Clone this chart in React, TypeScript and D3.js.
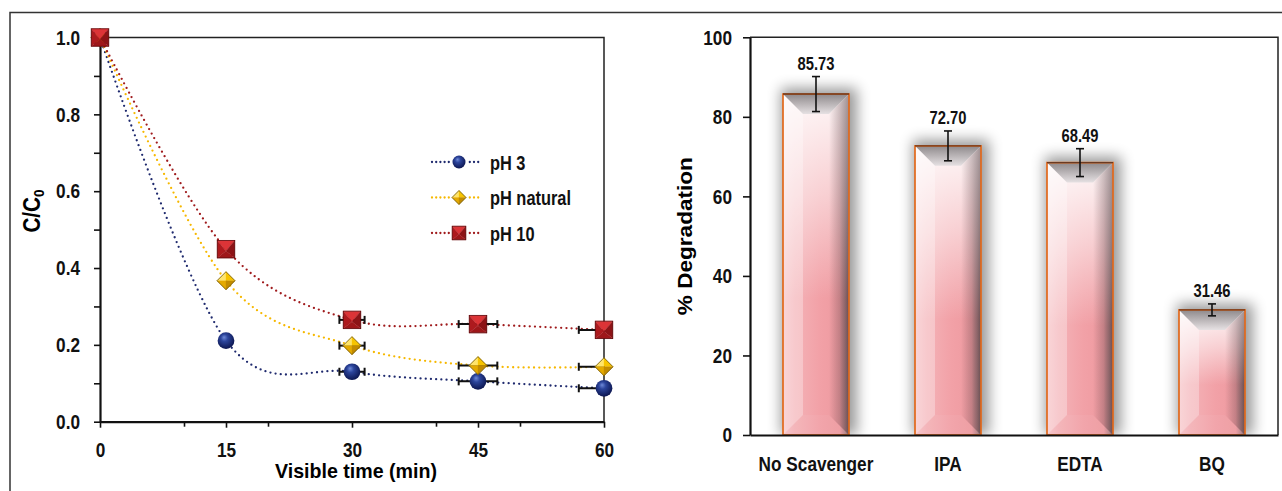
import React, { useEffect, useRef } from 'react';
import * as d3 from 'd3';

// left panel: C/C0 vs visible time
const times = [0, 15, 30, 45, 60];
const ph3 = [1.0, 0.211, 0.13, 0.105, 0.087];
const phNatural = [1.0, 0.367, 0.198, 0.146, 0.143];
const ph10 = [1.0, 0.449, 0.265, 0.254, 0.239];
const timeErr = [0, 0, 1.5, 2.3, 3.0];
const timeTicks = [0, 15, 30, 45, 60];
const timeMinorTicks = [10, 20, 40, 50];
const ratioTicks = [0, 0.2, 0.4, 0.6, 0.8, 1.0];
const ratioMinorTicks = [0.1, 0.3, 0.5, 0.7, 0.9];
const seriesNames = ['pH 3', 'pH natural', 'pH 10'];

// right panel: scavenger test
const scavengers = ['No Scavenger', 'IPA', 'EDTA', 'BQ'];
const degradation = [85.73, 72.7, 68.49, 31.46];
const degradationErr = [4.4, 3.75, 3.5, 1.5];
const degradationTicks = [0, 20, 40, 60, 80, 100];

const FONT = "'Liberation Sans', Arial, sans-serif";
const NARROW = 0.82;

// squeeze text horizontally around its own x (no narrow face installed)
const narrow = sel => sel.each(function () {
  const x = +this.getAttribute('x') || 0;
  d3.select(this).attr('transform', `translate(${x},0) scale(${NARROW},1) translate(${-x},0)`);
});

const App = () => {
  const ref = useRef(null);

  useEffect(() => {
    document.body.style.margin = '0';
    d3.select(ref.current).selectAll('*').remove();

    const width = 1282;
    const height = 491;

    const svg = d3.select(ref.current)
      .append('svg')
      .attr('width', width)
      .attr('height', height)
      .style('display', 'block')
      .style('background', '#fff');

    const defs = svg.append('defs');

    // sphere for pH 3
    const sphere = defs.append('radialGradient').attr('id', 'sphere')
      .attr('cx', '45%').attr('cy', '40%').attr('r', '60%').attr('fx', '38%').attr('fy', '30%');
    sphere.append('stop').attr('offset', '0%').attr('stop-color', '#6f8ad8');
    sphere.append('stop').attr('offset', '35%').attr('stop-color', '#2c459c');
    sphere.append('stop').attr('offset', '100%').attr('stop-color', '#0c1650');

    // bar gradients
    const bodyH = defs.append('linearGradient').attr('id', 'barBody')
      .attr('x1', 0).attr('y1', 0).attr('x2', 1).attr('y2', 0);
    [['0%', '#f6c3c7'], ['18%', '#f4b2b7'], ['55%', '#f2a1a7'], ['86%', '#ee9aa0'], ['94%', '#b98589'], ['100%', '#7e6467']]
      .forEach(([o, c]) => bodyH.append('stop').attr('offset', o).attr('stop-color', c));

    const shine = defs.append('linearGradient').attr('id', 'barShine')
      .attr('x1', 0).attr('y1', 0).attr('x2', 0).attr('y2', 1);
    shine.append('stop').attr('offset', '0%').attr('stop-color', '#fff').attr('stop-opacity', 0.92);
    shine.append('stop').attr('offset', '30%').attr('stop-color', '#fff').attr('stop-opacity', 0.5);
    shine.append('stop').attr('offset', '60%').attr('stop-color', '#fff').attr('stop-opacity', 0);

    const topFace = defs.append('linearGradient').attr('id', 'barTop')
      .attr('x1', 0).attr('y1', 0).attr('x2', 0).attr('y2', 1);
    topFace.append('stop').attr('offset', '0%').attr('stop-color', '#8e898b');
    topFace.append('stop').attr('offset', '100%').attr('stop-color', '#e6e1e3');

    const rightFace = defs.append('linearGradient').attr('id', 'barRight')
      .attr('x1', 0).attr('y1', 0).attr('x2', 1).attr('y2', 0);
    rightFace.append('stop').attr('offset', '0%').attr('stop-color', '#5a4044').attr('stop-opacity', 0);
    rightFace.append('stop').attr('offset', '100%').attr('stop-color', '#5a4044').attr('stop-opacity', 0.55);

    const blur = defs.append('filter').attr('id', 'barShadow')
      .attr('x', '-60%').attr('y', '-30%').attr('width', '220%').attr('height', '160%');
    blur.append('feGaussianBlur').attr('stdDeviation', 7);

    defs.append('clipPath').attr('id', 'plotClip')
      .append('rect').attr('x', 90).attr('y', 20).attr('width', 515).attr('height', 420);

    // outer frame
    svg.append('path')
      .attr('d', `M10,${height} L10,12.5 L${width},12.5`)
      .attr('fill', 'none').attr('stroke', '#333').attr('stroke-width', 1.5);

    const styleText = (sel, size) => sel.selectAll('text')
      .attr('font-family', FONT).attr('font-weight', 700)
      .attr('font-size', size).attr('fill', '#111')
      .call(narrow);

    // ================= LEFT PANEL =================
    const xL = d3.scaleLinear().domain([0, 60]).range([100, 604]);
    const yL = d3.scaleLinear().domain([0, 1]).range([421.7, 37.5]);

    const left = svg.append('g');

    // box top/right
    left.append('path')
      .attr('d', `M${xL(0)},${yL(1)} L${xL(60)},${yL(1)} L${xL(60)},${yL(0)}`)
      .attr('fill', 'none').attr('stroke', '#222').attr('stroke-width', 1.5);

    left.append('g')
      .attr('transform', `translate(${xL(0)},0)`)
      .call(d3.axisLeft(yL).tickValues(ratioMinorTicks).tickSize(6).tickFormat(() => '').tickSizeOuter(0))
      .call(g => g.select('.domain').remove())
      .call(g => g.selectAll('line').attr('stroke', '#111').attr('stroke-width', 1.6));

    left.append('g')
      .attr('transform', `translate(${xL(0)},0)`)
      .call(d3.axisLeft(yL).tickValues(ratioTicks).tickSize(6).tickPadding(14).tickFormat(d3.format('.1f')).tickSizeOuter(0))
      .call(g => g.select('.domain').attr('stroke', '#111').attr('stroke-width', 2.2))
      .call(g => g.selectAll('line').attr('stroke', '#111').attr('stroke-width', 1.6))
      .call(g => styleText(g, 21));

    left.append('g')
      .attr('transform', `translate(0,${yL(0)})`)
      .call(d3.axisBottom(xL).tickValues(timeMinorTicks).tickSize(5).tickFormat(() => '').tickSizeOuter(0))
      .call(g => g.select('.domain').remove())
      .call(g => g.selectAll('line').attr('stroke', '#111').attr('stroke-width', 1.6));

    left.append('g')
      .attr('transform', `translate(0,${yL(0)})`)
      .call(d3.axisBottom(xL).tickValues(timeTicks).tickSize(6).tickPadding(14).tickSizeOuter(0))
      .call(g => g.select('.domain').attr('stroke', '#111').attr('stroke-width', 2.2))
      .call(g => g.selectAll('line').attr('stroke', '#111').attr('stroke-width', 1.6))
      .call(g => styleText(g, 21));

    left.append('text')
      .attr('x', 356).attr('y', 478)
      .attr('text-anchor', 'middle')
      .attr('font-family', FONT).attr('font-weight', 700).attr('font-size', 21)
      .attr('textLength', 162).attr('lengthAdjust', 'spacingAndGlyphs')
      .text('Visible time (min)');

    const yTitle = left.append('text')
      .attr('transform', `translate(40,211) rotate(-90) scale(${NARROW + 0.08},1)`)
      .attr('text-anchor', 'middle')
      .attr('font-family', FONT).attr('font-weight', 700).attr('font-size', 23);
    yTitle.append('tspan').text('C/C');
    yTitle.append('tspan').attr('font-size', 15).attr('dy', 4).text('0');

    const series = [
      { name: seriesNames[0], values: ph3, color: '#1f2a6e', marker: 'circle' },
      { name: seriesNames[1], values: phNatural, color: '#f6b800', marker: 'diamond' },
      { name: seriesNames[2], values: ph10, color: '#a01b1d', marker: 'square' }
    ];

    const drawMarker = (g, type, s) => {
      if (type === 'circle') {
        g.append('circle').attr('r', s * 0.93).attr('fill', 'url(#sphere)');
      } else if (type === 'diamond') {
        const faces = [
          [[0, -s], [-s, 0], [0, 0], '#ffe46a'],
          [[0, -s], [s, 0], [0, 0], '#f7c400'],
          [[-s, 0], [0, s], [0, 0], '#e5aa00'],
          [[s, 0], [0, s], [0, 0], '#c38c00']
        ];
        faces.forEach(([a, b, c, col]) => g.append('path')
          .attr('d', `M${a}L${b}L${c}Z`).attr('fill', col).attr('stroke', col).attr('stroke-width', 0.3));
        g.append('path').attr('d', `M0,${-s}L${s},0L0,${s}L${-s},0Z`)
          .attr('fill', 'none').attr('stroke', '#6b5000').attr('stroke-width', 0.8);
      } else {
        const h = s * 0.97;
        const apex = [0, h * 0.2];
        const faces = [
          [[-h, -h], [h, -h], apex, '#dc3437'],
          [[-h, -h], apex, [-h, h], '#ad1a1e'],
          [[h, -h], [h, h], apex, '#8c1316'],
          [[-h, h], [h, h], apex, '#9e171a']
        ];
        faces.forEach(([a, b, c, col]) => g.append('path')
          .attr('d', `M${a}L${b}L${c}Z`).attr('fill', col).attr('stroke', col).attr('stroke-width', 0.3));
        g.append('rect').attr('x', -h).attr('y', -h).attr('width', 2 * h).attr('height', 2 * h)
          .attr('fill', 'none').attr('stroke', '#5e0b0d').attr('stroke-width', 0.8);
      }
    };

    // Excel-style smoothing
    const line = d3.line()
      .x((d, i) => xL(times[i]))
      .y(d => yL(d))
      .curve(d3.curveCardinal.tension(0));

    const plot = left.append('g').attr('clip-path', 'url(#plotClip)');

    series.forEach(s => {
      plot.append('path')
        .attr('d', line(s.values))
        .attr('fill', 'none')
        .attr('stroke', s.color)
        .attr('stroke-width', 2.3)
        .attr('stroke-linecap', 'round')
        .attr('stroke-dasharray', '0 5.2');
    });

    series.forEach(s => {
      // horizontal error bars
      s.values.forEach((v, i) => {
        const e = timeErr[i];
        if (!e) return;
        const y = yL(v);
        const x0 = xL(times[i] - e);
        const x1 = xL(times[i] + e);
        const eb = plot.append('g').attr('stroke', '#111').attr('stroke-width', 2);
        eb.append('line').attr('x1', x0).attr('x2', x1).attr('y1', y).attr('y2', y);
        eb.append('line').attr('x1', x0).attr('x2', x0).attr('y1', y - 4).attr('y2', y + 4);
        eb.append('line').attr('x1', x1).attr('x2', x1).attr('y1', y - 4).attr('y2', y + 4);
      });
    });

    series.forEach(s => {
      s.values.forEach((v, i) => {
        const g = left.append('g').attr('transform', `translate(${xL(times[i])},${yL(v)})`);
        drawMarker(g, s.marker, 9);
      });
    });

    // legend
    const legendRows = [162, 197.5, 233];
    series.forEach((s, i) => {
      const y = legendRows[i];
      const lg = left.append('g');
      lg.append('line')
        .attr('x1', 432).attr('x2', 482).attr('y1', y).attr('y2', y)
        .attr('stroke', s.color).attr('stroke-width', 2.3)
        .attr('stroke-linecap', 'round').attr('stroke-dasharray', '0 4.2');
      const m = lg.append('g').attr('transform', `translate(459,${y})`);
      m.append('rect').attr('x', -9).attr('y', -9).attr('width', 18).attr('height', 18).attr('fill', '#fff');
      drawMarker(m, s.marker, 7);
      lg.append('text')
        .attr('x', 490).attr('y', y + 8)
        .attr('font-family', FONT).attr('font-weight', 700).attr('font-size', 20).attr('fill', '#111')
        .text(s.name)
        .call(narrow);
    });

    // ================= RIGHT PANEL =================
    const xR = d3.scaleBand().domain(scavengers).range([750, 1278]).paddingInner(0.5).paddingOuter(0.25);
    const yR = d3.scaleLinear().domain([0, 100]).range([435, 37.3]);

    const right = svg.append('g');

    right.append('path')
      .attr('d', `M750,${yR(100)} L1278,${yR(100)} L1278,${yR(0)}`)
      .attr('fill', 'none').attr('stroke', '#222').attr('stroke-width', 1.5);

    // shadows
    right.append('g').selectAll('rect')
      .data(degradation).enter()
      .append('rect')
      .attr('x', (d, i) => xR(scavengers[i]) - 2)
      .attr('y', d => yR(d) - 6)
      .attr('width', xR.bandwidth() + 10)
      .attr('height', d => yR(0) - yR(d) + 6)
      .attr('fill', '#000')
      .attr('opacity', 0.4)
      .attr('filter', 'url(#barShadow)');

    // white cover below axis to cut shadow
    right.append('rect').attr('x', 740).attr('y', yR(0)).attr('width', 537).attr('height', 30).attr('fill', '#fff');

    const bars = right.append('g').selectAll('g')
      .data(degradation).enter()
      .append('g');

    bars.each(function (d, i) {
      const g = d3.select(this);
      const x0 = xR(scavengers[i]);
      const x1 = x0 + xR.bandwidth();
      const y0 = yR(d);
      const y1 = yR(0);
      const b = 20;
      g.append('rect').attr('x', x0).attr('y', y0).attr('width', x1 - x0).attr('height', y1 - y0).attr('fill', 'url(#barBody)');
      g.append('rect').attr('x', x0).attr('y', y0).attr('width', x1 - x0).attr('height', y1 - y0).attr('fill', 'url(#barShine)');
      // bevel faces
      g.append('path')
        .attr('d', `M${x0},${y0}L${x0 + b},${y0 + b}L${x0 + b},${y1 - b}L${x0},${y1}Z`)
        .attr('fill', '#fff').attr('opacity', 0.3);
      g.append('path')
        .attr('d', `M${x1},${y0}L${x1},${y1}L${x1 - b},${y1 - b}L${x1 - b},${y0 + b}Z`)
        .attr('fill', 'url(#barRight)');
      g.append('path')
        .attr('d', `M${x0},${y1}L${x1},${y1}L${x1 - b},${y1 - b}L${x0 + b},${y1 - b}Z`)
        .attr('fill', '#fff').attr('opacity', 0.05);
      g.append('path')
        .attr('d', `M${x0},${y0}L${x1},${y0}L${x1 - b},${y0 + b}L${x0 + b},${y0 + b}Z`)
        .attr('fill', 'url(#barTop)');
      g.append('rect').attr('x', x0).attr('y', y0).attr('width', x1 - x0).attr('height', y1 - y0)
        .attr('fill', 'none').attr('stroke', '#e2691c').attr('stroke-width', 1.7);
      g.append('line').attr('x1', x0).attr('x2', x1).attr('y1', y0).attr('y2', y0)
        .attr('stroke', '#6a3a22').attr('stroke-width', 1.4);

      // error bar
      const cx = x0 + xR.bandwidth() / 2;
      const ea = yR(d + degradationErr[i]);
      const eb = yR(d - degradationErr[i]);
      const err = g.append('g').attr('stroke', '#111').attr('stroke-width', 1.6);
      err.append('line').attr('x1', cx).attr('x2', cx).attr('y1', ea).attr('y2', eb);
      err.append('line').attr('x1', cx - 4).attr('x2', cx + 4).attr('y1', ea).attr('y2', ea);
      err.append('line').attr('x1', cx - 4).attr('x2', cx + 4).attr('y1', eb).attr('y2', eb);

      g.append('text')
        .attr('x', cx).attr('y', ea - 7)
        .attr('text-anchor', 'middle')
        .attr('font-family', FONT).attr('font-weight', 700).attr('font-size', 18).attr('fill', '#111')
        .text(d3.format('.2f')(d))
        .call(narrow);
    });

    right.append('g')
      .attr('transform', 'translate(750,0)')
      .call(d3.axisLeft(yR).tickValues(degradationTicks).tickSize(7).tickPadding(11).tickSizeOuter(0))
      .call(g => g.select('.domain').attr('stroke', '#111').attr('stroke-width', 2.2))
      .call(g => g.selectAll('line').attr('stroke', '#111').attr('stroke-width', 1.6))
      .call(g => styleText(g, 21));

    right.append('g')
      .attr('transform', `translate(0,${yR(0)})`)
      .call(d3.axisBottom(xR).tickSize(0).tickPadding(21).tickSizeOuter(0))
      .call(g => g.select('.domain').attr('stroke', '#111').attr('stroke-width', 2.2))
      .call(g => styleText(g, 21));

    right.append('text')
      .attr('transform', `translate(692,${(yR(0) + yR(100)) / 2}) rotate(-90)`)
      .attr('text-anchor', 'middle')
      .attr('font-family', FONT).attr('font-weight', 700).attr('font-size', 21)
      .attr('textLength', 158).attr('lengthAdjust', 'spacingAndGlyphs')
      .text('% Degradation');
  }, []);

  return <div id='chart' ref={ref}></div>;
};

export default App;
